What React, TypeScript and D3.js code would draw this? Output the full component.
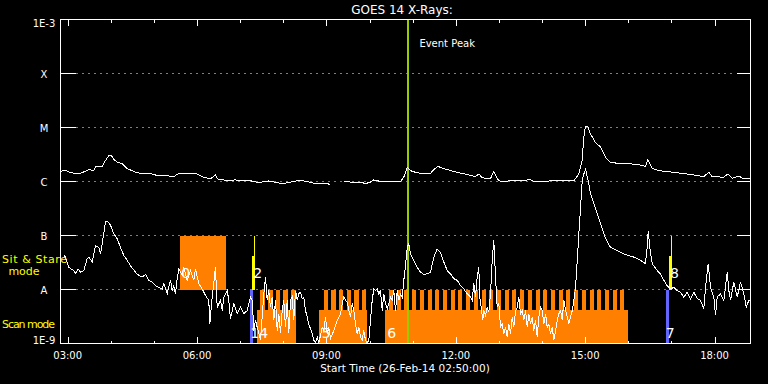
import React from "react";
import * as d3 from "d3";

// ---------- DATA ----------
// Time axis: decimal hours on 26-Feb-2014, plot starts 02:50 and spans 16 h
const START_LABEL = "02:50";
const SPAN_HOURS = 16;
const TITLE = "GOES 14 X-Rays:";
const X_TITLE = "Start Time (26-Feb-14 02:50:00)";

const yLevels = [1e-3, 1e-4, 1e-5, 1e-6, 1e-7, 1e-8, 1e-9];
const yLevelLabels = ["1E-3", "X", "M", "C", "B", "A", "1E-9"];
const xTickHours = [3, 4, 5, 6, 7, 8, 9, 10, 11, 12, 13, 14, 15, 16, 17, 18];
const xMajorTickHours = [3, 6, 9, 12, 15, 18];
const xMajorTickLabels = ["03:00", "06:00", "09:00", "12:00", "15:00", "18:00"];

// GOES long channel (1-8 A): [hour, log10 flux W/m^2]; NaN = data gap
const longChannel: [number, number][] = [
  [2.833, -5.81], [2.949, -5.79], [3.065, -5.84], [3.297, -5.85], [3.49, -5.78], [3.605, -5.8],
  [3.645, -5.72], [3.8, -5.72], [3.877, -5.61], [3.953, -5.52], [4.016, -5.52], [4.069, -5.59],
  [4.148, -5.64], [4.264, -5.67], [4.38, -5.76], [4.496, -5.8], [4.612, -5.84], [4.765, -5.85],
  [4.92, -5.85], [5.036, -5.88], [5.268, -5.89], [5.461, -5.91], [5.576, -5.85], [5.732, -5.86],
  [5.887, -5.86], [5.964, -5.85], [6.04, -5.88], [6.156, -5.92], [6.312, -5.95], [6.427, -5.88],
  [6.467, -5.95], [6.583, -5.97], [6.736, -5.98], [6.891, -5.97], [7.047, -5.99], [7.2, -5.98],
  [7.432, -6.02], [7.663, -5.99], [7.974, -6.04], [8.127, -6.02], [8.359, -5.98], [8.475, -5.99],
  [8.707, -6.03], [9.018, -6.03], [9.094, -6.07], [9.25, NaN],
  [9.403, -5.99], [9.558, -6.01], [9.79, -6.01], [9.905, -6.04], [10.021, -6.01], [10.098, -5.97],
  [10.254, -6.0], [10.717, -6.0], [10.794, -5.92], [10.872, -5.74], [10.949, -5.8], [11.065, -5.83],
  [11.258, -5.86], [11.413, -5.85], [11.49, -5.78], [11.582, -5.72], [11.685, -5.75], [11.8, -5.78],
  [12.032, -5.83], [12.264, -5.87], [12.457, -5.91], [12.533, -5.86], [12.612, -5.93], [12.804, -5.95],
  [12.881, -5.81], [12.96, -5.95], [13.036, -6.0], [13.424, -5.98], [13.732, -5.97], [13.809, -6.0],
  [14.196, -5.99], [14.736, -5.99], [14.852, -5.86], [14.93, -5.61], [14.968, -5.18], [15.007, -4.98],
  [15.06, -4.98], [15.123, -5.12], [15.239, -5.28], [15.355, -5.36], [15.471, -5.55], [15.587, -5.65],
  [15.895, -5.67], [16.206, -5.68], [16.398, -5.72], [16.452, -5.59], [16.554, -5.76], [16.707, -5.8],
  [17.055, -5.83], [17.442, -5.87], [17.75, -5.91], [17.866, -5.83], [17.945, -5.91], [18.214, -5.92],
  [18.307, -5.86], [18.409, -5.94], [18.562, -5.9], [18.678, -5.95], [18.833, -5.95],
];

// GOES short channel (0.5-4 A): [hour, log10 flux W/m^2]
const shortChannel: [number, number][] = [
  [2.91, -7.37], [2.949, -7.4], [3.025, -7.59], [3.141, -7.65], [3.181, -7.7], [3.243, -7.62],
  [3.297, -7.68], [3.373, -7.65], [3.452, -7.43], [3.489, -7.4], [3.568, -7.49], [3.645, -7.19],
  [3.721, -7.22], [3.761, -7.34], [3.8, -7.15], [3.877, -6.75], [3.916, -6.73], [3.993, -6.81],
  [4.069, -6.97], [4.148, -7.06], [4.224, -7.22], [4.301, -7.37], [4.38, -7.46], [4.456, -7.56],
  [4.572, -7.68], [4.649, -7.74], [4.728, -7.77], [4.804, -7.72], [4.881, -7.83], [4.96, -7.86],
  [5.036, -7.93], [5.113, -7.96], [5.191, -7.99], [5.229, -7.89], [5.307, -8.08], [5.384, -7.83],
  [5.423, -8.02], [5.46, -7.93], [5.5, -8.08], [5.539, -7.8], [5.576, -7.62], [5.655, -7.74],
  [5.692, -7.59], [5.771, -7.83], [5.848, -7.65], [5.924, -7.83], [5.964, -7.62], [6.04, -7.89],
  [6.119, -7.99], [6.196, -8.11], [6.272, -8.2], [6.295, -8.64], [6.351, -8.14], [6.427, -7.59],
  [6.467, -8.33], [6.543, -8.2], [6.583, -8.39], [6.62, -8.14], [6.699, -8.02], [6.736, -8.2],
  [6.775, -8.54], [6.852, -8.26], [6.931, -8.45], [7.007, -8.33], [7.084, -8.45], [7.163, -8.39],
  [7.2, -8.26], [7.239, -8.14], [7.279, -8.2], [7.316, -8.76], [7.355, -8.57], [7.395, -8.7],
  [7.471, -8.94], [7.548, -8.08], [7.587, -7.77], [7.626, -8.2], [7.663, -8.02], [7.702, -8.33],
  [7.742, -8.14], [7.779, -8.57], [7.819, -8.2], [7.858, -8.76], [7.895, -8.45], [7.935, -8.81],
  [7.974, -8.39], [8.011, -8.2], [8.051, -8.7], [8.09, -8.2], [8.127, -8.81], [8.167, -8.2],
  [8.206, -8.14], [8.243, -8.57], [8.283, -8.02], [8.322, -8.2], [8.359, -8.08], [8.399, -8.05],
  [8.438, -8.17], [8.475, -8.14], [8.515, -8.39], [8.554, -8.51], [8.591, -8.64], [8.631, -8.73],
  [8.67, -8.82], [8.707, -8.94], [8.747, -8.98], [8.786, -8.88], [8.823, -8.98], [8.863, -8.85],
  [8.902, -8.7], [8.939, -8.76], [8.979, -8.51], [9.018, -8.82], [9.055, -8.7], [9.094, -8.91],
  [9.171, -8.76], [9.25, -8.57], [9.326, -8.45], [9.366, -8.26], [9.403, -8.14], [9.442, -8.2],
  [9.482, -8.24], [9.519, -8.39], [9.558, -8.51], [9.598, -8.26], [9.635, -8.39], [9.674, -8.64],
  [9.713, -8.82], [9.751, -8.7], [9.79, -8.88], [9.829, -8.94], [9.866, -8.76], [9.906, -8.94],
  [9.945, -8.99], [9.982, -8.94], [10.022, -8.57], [10.061, -8.2], [10.098, -7.99], [10.138, -8.02],
  [10.177, -7.99], [10.214, -8.08], [10.254, -8.02], [10.293, -8.39], [10.33, -8.08], [10.37, -8.26],
  [10.409, -8.36], [10.446, -8.26], [10.486, -8.14], [10.525, -8.2], [10.562, -8.02], [10.602, -8.39],
  [10.641, -8.02], [10.678, -8.2], [10.718, -8.08], [10.757, -8.14], [10.794, -7.83], [10.834, -7.56],
  [10.873, -7.22], [10.91, -7.15], [10.95, -7.34], [11.026, -7.46], [11.105, -7.59], [11.181, -7.68],
  [11.258, -7.72], [11.337, -7.71], [11.413, -7.68], [11.49, -7.4], [11.569, -7.25], [11.645, -7.31],
  [11.722, -7.49], [11.801, -7.65], [11.877, -7.71], [11.954, -7.8], [12.033, -7.83], [12.109, -7.93],
  [12.186, -7.99], [12.264, -8.08], [12.341, -8.14], [12.38, -8.2], [12.417, -7.89], [12.457, -8.14],
  [12.496, -7.77], [12.533, -7.59], [12.556, -8.14], [12.589, -8.33], [12.626, -8.57], [12.649, -8.39],
  [12.689, -8.48], [12.728, -8.33], [12.765, -8.42], [12.805, -8.08], [12.844, -7.46], [12.881, -7.09],
  [12.921, -7.77], [12.96, -8.33], [12.997, -8.26], [13.037, -8.7], [13.076, -8.64], [13.113, -8.82],
  [13.153, -8.7], [13.192, -8.88], [13.229, -8.64], [13.269, -8.82], [13.308, -8.51], [13.345, -8.7],
  [13.385, -8.39], [13.424, -8.33], [13.461, -8.14], [13.501, -8.45], [13.54, -8.39], [13.577, -8.57],
  [13.617, -8.39], [13.656, -8.7], [13.693, -8.45], [13.733, -8.64], [13.772, -8.51], [13.809, -8.76],
  [13.849, -8.57], [13.888, -8.88], [13.925, -8.51], [13.965, -8.33], [14.004, -8.39], [14.041, -8.64],
  [14.081, -8.45], [14.12, -8.7], [14.157, -8.64], [14.197, -8.82], [14.236, -8.7], [14.273, -8.94],
  [14.313, -8.76], [14.352, -8.57], [14.389, -8.45], [14.429, -8.39], [14.468, -8.57], [14.505, -8.2],
  [14.545, -8.39], [14.584, -8.51], [14.621, -8.64], [14.661, -8.51], [14.7, -8.39], [14.737, -8.2],
  [14.777, -7.96], [14.816, -7.46], [14.853, -6.97], [14.893, -6.48], [14.932, -5.98], [14.969, -5.86],
  [15.009, -5.77], [15.048, -5.92], [15.085, -6.04], [15.125, -6.23], [15.202, -6.41], [15.28, -6.6],
  [15.356, -6.78], [15.433, -6.97], [15.512, -7.12], [15.588, -7.22], [15.665, -7.25], [15.744, -7.28],
  [15.895, -7.34], [16.127, -7.4], [16.282, -7.46], [16.398, -7.52], [16.437, -7.22], [16.461, -6.91],
  [16.498, -7.22], [16.554, -7.52], [16.67, -7.65], [16.746, -7.71], [16.823, -7.83], [16.902, -7.93],
  [16.978, -7.99], [17.055, -7.96], [17.133, -8.02], [17.21, -8.05], [17.287, -8.14], [17.366, -8.05],
  [17.442, -8.17], [17.519, -8.05], [17.598, -8.17], [17.674, -8.2], [17.751, -8.36], [17.79, -7.96],
  [17.853, -7.52], [17.906, -7.96], [17.983, -8.14], [18.022, -8.48], [18.062, -8.14], [18.138, -8.08],
  [18.215, -8.2], [18.294, -7.68], [18.331, -8.02], [18.37, -8.2], [18.447, -7.86], [18.526, -8.14],
  [18.602, -7.86], [18.679, -8.08], [18.735, -8.33], [18.795, -8.2], [18.833, -8.2],
];

// Observation modes
const sitStareBlocks = [{ start: "05:36", end: "06:40", label: "0" }];
const scanBlocks = [
  { start: "07:23", end: "08:17", label: "4" },
  { start: "08:50", end: "09:56", label: "5" },
  { start: "10:21", end: "15:59", label: "6" },
];
const scanRasterStarts = [
  "07:28", "07:39", "07:50", "08:00", "08:11",
  "08:56", "09:07", "09:17", "09:28", "09:39", "09:49",
  "10:27", "10:38", "10:48", "10:59", "11:10", "11:21", "11:31", "11:42", "11:53", "12:03",
  "12:14", "12:25", "12:36", "12:46", "12:57", "13:08", "13:18", "13:29", "13:40", "13:51",
  "14:01", "14:12", "14:23", "14:33", "14:44", "14:55", "15:06", "15:16", "15:27", "15:38", "15:48",
];
const SCAN_RASTER_MINUTES = 6;
const blueMarks = [
  { start: "07:14", end: "07:18", label: "1" },
  { start: "16:52", end: "16:57", label: "7" },
];
const yellowMarks = [
  { start: "07:16", end: "07:20", line: "07:19", label: "2" },
  { start: "16:56", end: "17:00", line: "16:59", label: "8" },
];
const EVENT_PEAK = "10:54";
const EVENT_LABEL = "Event Peak";

// band levels (flux)
const SIT_BAND: [number, number] = [1e-8, 1e-7];
const SCAN_BAND: [number, number] = [1e-9, 1e-8];
const SCAN_BODY_TOP = 4.2e-9;
const YELLOW_BAR_TOP = 4.2e-8;
const SIT_LABEL_FLUX = 1.63e-8;
const SCAN_LABEL_FLUX = 1.24e-9;

// ---------- HELPERS ----------
const hm = (s: string) => {
  const [h, m] = s.split(":").map(Number);
  return h + m / 60;
};

const FONT = "'DejaVu Sans', sans-serif";
const ORANGE = "#ff8000";
const BLUE = "#6464ff";
const YELLOW = "#ffff00";
const GREEN = "#99cc00";

export default function App() {
  const startHour = hm(START_LABEL);
  const x = d3.scaleLinear().domain([startHour, startHour + SPAN_HOURS]).range([60.5, 750.5]);
  const y = d3.scaleLog().domain([1e-9, 1e-3]).range([343.5, 19.5]);
  const line = d3
    .line<[number, number]>()
    .defined((d) => !isNaN(d[1]))
    .x((d) => x(d[0]))
    .y((d) => y(Math.pow(10, d[1])));

  const left = x.range()[0];
  const right = x.range()[1];
  const top = y.range()[1];
  const bottom = y.range()[0];

  const gridLevels = yLevels.slice(1, -1);

  return (
    <svg
      width={768}
      height={384}
      style={{ position: "fixed", left: 0, top: 0, display: "block" }}
      fontFamily={FONT}
    >
      <rect x={0} y={0} width={768} height={384} fill="#000" />

      {/* dotted grid */}
      {gridLevels.map((v, i) => (
        <g key={"g" + i} stroke="#fff" strokeWidth={1}>
          <line x1={left + 16} x2={right - 15} y1={y(v)} y2={y(v)} strokeDasharray="1 5" />
        </g>
      ))}

      {/* sit & stare blocks */}
      <g shapeRendering="crispEdges">
        {sitStareBlocks.map((b, i) => (
          <rect
            key={"ss" + i}
            x={x(hm(b.start))}
            width={x(hm(b.end)) - x(hm(b.start))}
            y={y(SIT_BAND[1])}
            height={y(SIT_BAND[0]) - y(SIT_BAND[1])}
            fill={ORANGE}
          />
        ))}
        {/* scan blocks */}
        {scanBlocks.map((b, i) => (
          <rect
            key={"sc" + i}
            x={x(hm(b.start))}
            width={x(hm(b.end)) - x(hm(b.start))}
            y={y(SCAN_BODY_TOP)}
            height={y(SCAN_BAND[0]) - y(SCAN_BODY_TOP)}
            fill={ORANGE}
          />
        ))}
        {scanRasterStarts.map((s, i) => (
          <rect
            key={"r" + i}
            x={x(hm(s))}
            width={x(hm(s) + SCAN_RASTER_MINUTES / 60) - x(hm(s))}
            y={y(SCAN_BAND[1])}
            height={y(SCAN_BODY_TOP) - y(SCAN_BAND[1]) + 1}
            fill={ORANGE}
          />
        ))}
        {blueMarks.map((b, i) => (
          <rect
            key={"b" + i}
            x={x(hm(b.start))}
            width={x(hm(b.end)) - x(hm(b.start))}
            y={y(SCAN_BAND[1])}
            height={y(SCAN_BAND[0]) - y(SCAN_BAND[1])}
            fill={BLUE}
          />
        ))}
        {yellowMarks.map((b, i) => (
          <g key={"yl" + i}>
            <rect
              x={x(hm(b.start))}
              width={x(hm(b.end)) - x(hm(b.start))}
              y={y(YELLOW_BAR_TOP)}
              height={y(SIT_BAND[0]) - y(YELLOW_BAR_TOP)}
              fill={YELLOW}
            />
            <rect
              x={x(hm(b.line))}
              width={1}
              y={y(SIT_BAND[1])}
              height={y(SIT_BAND[0]) - y(SIT_BAND[1])}
              fill={YELLOW}
            />
          </g>
        ))}
      </g>

      {/* event peak */}
      <line
        x1={x(hm(EVENT_PEAK))}
        x2={x(hm(EVENT_PEAK))}
        y1={top}
        y2={bottom}
        stroke={GREEN}
        strokeWidth={2}
        shapeRendering="crispEdges"
      />
      <text x={x(hm(EVENT_PEAK)) + 11} y={47} fill="#fff" fontSize={10}>
        {EVENT_LABEL}
      </text>

      {/* data curves */}
      <g shapeRendering="crispEdges" fill="none" stroke="#fff" strokeWidth={1}>
        <path d={line(longChannel) || ""} />
        <path d={line(shortChannel) || ""} />
      </g>

      {/* mode numbers */}
      {sitStareBlocks.map((b, i) => (
        <text key={"lss" + i} x={x(hm(b.start)) + 1.5} y={y(SIT_LABEL_FLUX)} fill="#fff" fontSize={14}>
          {b.label}
        </text>
      ))}
      {yellowMarks.map((b, i) => (
        <text key={"lyl" + i} x={x(hm(b.start)) + 1.5} y={y(SIT_LABEL_FLUX)} fill="#fff" fontSize={14}>
          {b.label}
        </text>
      ))}
      {scanBlocks.map((b, i) => (
        <text key={"lsc" + i} x={x(hm(b.start)) + 2.6} y={y(SCAN_LABEL_FLUX)} fill="#fff" fontSize={14}>
          {b.label}
        </text>
      ))}
      {blueMarks.map((b, i) => (
        <text key={"lb" + i} x={x(hm(b.start))} y={y(SCAN_LABEL_FLUX)} fill="#fff" fontSize={14}>
          {b.label}
        </text>
      ))}

      {/* frame */}
      <rect
        x={left}
        y={top}
        width={right - left}
        height={bottom - top}
        fill="none"
        stroke="#fff"
        strokeWidth={1}
        shapeRendering="crispEdges"
      />

      {/* y ticks + labels */}
      {yLevels.map((v, i) => {
        const yy = y(v);
        const off = i === 0 ? 7.5 : i === yLevels.length - 1 ? 0.3 : 4.6;
        return (
          <g key={"yt" + i}>
            <line x1={left} x2={left + 15} y1={yy} y2={yy} stroke="#fff" shapeRendering="crispEdges" />
            <line x1={right - 14} x2={right} y1={yy} y2={yy} stroke="#fff" shapeRendering="crispEdges" />
            <text x={44} y={yy + off} fill="#fff" fontSize={10} textAnchor="middle">
              {yLevelLabels[i]}
            </text>
          </g>
        );
      })}

      {/* x ticks */}
      {xTickHours.map((h) => {
        const major = xMajorTickHours.includes(h);
        const xx = Math.round(x(h)) + 0.5;
        return (
          <g key={"xt" + h} stroke="#fff" shapeRendering="crispEdges">
            <line x1={xx} x2={xx} y1={top} y2={top + (major ? 6 : 3.5)} />
            <line x1={xx} x2={xx} y1={bottom} y2={bottom - (major ? 6.5 : 3)} />
          </g>
        );
      })}
      {xMajorTickHours.map((h, i) => (
        <text key={"xl" + h} x={x(h)} y={359} fill="#fff" fontSize={10} textAnchor="middle">
          {xMajorTickLabels[i]}
        </text>
      ))}

      {/* titles */}
      <text x={402} y={13.5} fill="#fff" fontSize={12} textAnchor="middle">
        {TITLE}
      </text>
      <text x={405} y={371.5} fill="#fff" fontSize={10.5} textAnchor="middle">
        {X_TITLE}
      </text>

      {/* mode labels */}
      <text x={2} y={263} fill={YELLOW} fontSize={11} textLength={65} lengthAdjust="spacing">
        Sit &amp; Stare
      </text>
      <text x={24} y={275} fill={YELLOW} fontSize={11} textAnchor="middle">
        mode
      </text>
      <text x={2} y={328} fill={YELLOW} fontSize={11} textLength={53} lengthAdjust="spacing">
        Scan mode
      </text>
    </svg>
  );
}
